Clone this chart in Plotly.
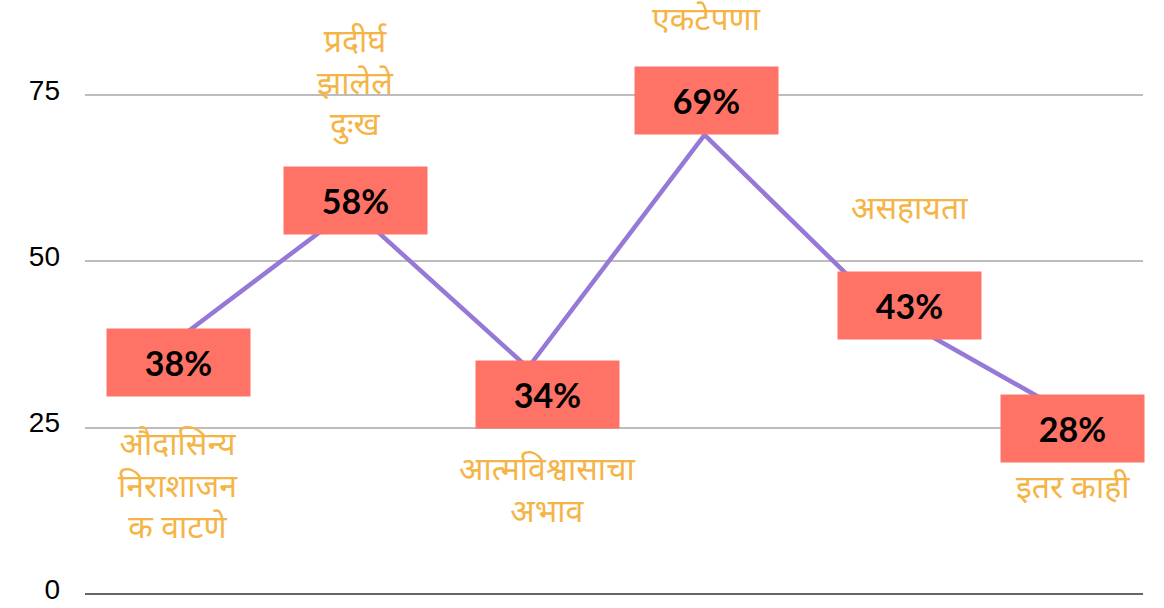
import plotly.graph_objects as go

categories = ["औदासिन्य<br>निराशाजन<br>क वाटणे", "प्रदीर्घ<br>झालेले<br>दुःख", "आत्मविश्वासाचा<br>अभाव",
              "एकटेपणा", "असहायता", "इतर काही"]
values = [38, 58, 34, 69, 43, 28]
tick_vals = [0, 25, 50, 75]

# layout offsets (pixels) for value boxes and category labels
box_dx = [3, 4, 19, 2, 28, 15]
box_dy = [-21, 8, -27, 34, 2, -21]
lab_dy = [-147, 123, -125, 113, 97, -82]

x = list(range(len(values)))

fig = go.Figure()
fig.add_trace(go.Scatter(x=x, y=values, mode="lines",
                         line=dict(color="#9579D6", width=4.5), hoverinfo="skip"))

for i, v in enumerate(values):
    fig.add_annotation(x=i, y=v, xref="x", yref="y", text=f"<b>{v}%</b>", showarrow=False,
                       xshift=box_dx[i], yshift=box_dy[i], width=141, height=65,
                       bgcolor="#FF7366", font=dict(family="Lato", size=34, color="#000000"),
                       align="center", valign="middle")
    fig.add_annotation(x=i, y=v, xref="x", yref="y", text=categories[i], showarrow=False,
                       xshift=box_dx[i], yshift=lab_dy[i],
                       font=dict(family="Noto Sans Devanagari, Noto Sans, sans-serif", size=32, color="#F4B446"),
                       align="center")

fig.update_layout(
    width=1164, height=608,
    margin=dict(l=85, r=21, t=5, b=14, autoexpand=False),
    paper_bgcolor="white", plot_bgcolor="white",
    showlegend=False,
    xaxis=dict(range=[-0.51, 5.484], showgrid=False, zeroline=False, showticklabels=False,
               showline=False, fixedrange=True, automargin=False),
    yaxis=dict(range=[0, 88.53], tickvals=tick_vals, ticktext=[str(t) for t in tick_vals],
               showgrid=True, gridcolor="#BDBDBD", gridwidth=2,
               zeroline=True, zerolinecolor="#666666", zerolinewidth=2,
               tickfont=dict(family="Liberation Sans, Arial", size=28, color="#000000"),
               ticklabelstandoff=24, ticklabelshift=-5, ticklabeloverflow="allow",
               showline=False, automargin=False, fixedrange=True),
)

fig.write_html("out.html", config={"displayModeBar": False},
               post_script="document.body.style.margin='0';")
